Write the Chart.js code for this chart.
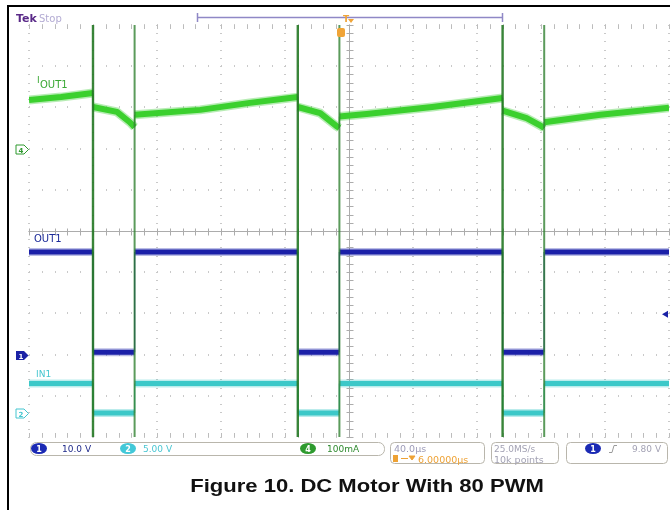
<!DOCTYPE html>
<html>
<head>
<meta charset="utf-8">
<script src="https://cdn.jsdelivr.net/npm/chart.js@4.4.1/dist/chart.umd.min.js"></script>
<style>
  html, body { margin: 0; padding: 0; background: #fff; }
  #wrap { width: 670px; height: 510px; }
</style>
</head>
<body>
<div id="wrap"><canvas id="scope" width="670" height="510"></canvas></div>
<script>
// time base: 40 us/div, 10 divisions, centre = 0
const timeTicks = [-200, -160, -120, -80, -40, 0, 40, 80, 120, 160, 200];

// PWM edges, us
const offEdges = [-160, -32, 96];   // OUT1 / IN1 go low
const onEdges = [-134, -6, 122];    // OUT1 / IN1 go high

// ch4: IOUT1 current, mA
const ioutTime = [-200, -180, -160, -160, -145, -137, -134, -134, -93, -62, -32, -32, -18, -8, -6, -6, 11, 52, 96, 96, 111, 120, 122, 122, 157, 200];
const ioutMa = [118, 125, 135, 101, 89, 64, 52, 82, 94, 111, 125, 101, 86, 55, 50, 78, 84, 101, 123, 92, 74, 55, 50, 64, 82, 99];

// ch1: OUT1 voltage, V [high, low]
const out1Levels = [24.9, 0.6];
// ch2: IN1 voltage, V [high, low]
const in1Levels = [3.6, 0.0];

// channel settings: units per division, ground marker in divisions
const ch1 = { scale: 10, ground: -3.0 };
const ch2 = { scale: 5, ground: -4.42 };
const ch4 = { scale: 100, ground: 2.0 };
const trigLevel = 9.8; // V on ch1

const GREEN = '#3bd02e';
const BLUE = '#1b20a8';
const CYAN = '#3cc8c8';

function toDiv(v, ch) {
  return ch.ground + v / ch.scale;
}

function stepSeries(levels, ch) {
  const hi = levels[0], lo = levels[1];
  const pts = [{ x: timeTicks[0], y: hi }];
  offEdges.forEach((t, i) => {
    pts.push({ x: t, y: hi }, { x: t, y: lo }, { x: onEdges[i], y: lo }, { x: onEdges[i], y: hi });
  });
  pts.push({ x: timeTicks[timeTicks.length - 1], y: hi });
  return pts.map(p => ({ x: p.x, y: toDiv(p.y, ch) }));
}

function spikes(edges) {
  const pts = [];
  edges.forEach(t => pts.push({ x: t, y: 5 }, { x: t, y: -5 }, { x: t, y: null }));
  return pts;
}

const ioutPts = ioutTime.map((t, i) => ({ x: t, y: toDiv(ioutMa[i], ch4) }));
const in1Pts = stepSeries(in1Levels, ch2);
const out1Pts = stepSeries(out1Levels, ch1);

const isVertical = ctx => ctx.p0.parsed.x === ctx.p1.parsed.x;

// trace = fuzzy halo + solid core, both from the same points
function trace(label, data, color, halo, wide, order) {
  return [
    {
      label: label + ' halo',
      data: data,
      borderColor: halo,
      borderWidth: wide + 3,
      borderCapStyle: 'butt',
      segment: { borderColor: ctx => isVertical(ctx) ? 'rgba(0,0,0,0)' : halo },
      order: order + 0.5
    },
    {
      label: label,
      data: data,
      borderColor: color,
      borderWidth: wide,
      borderCapStyle: 'butt',
      segment: { borderWidth: ctx => isVertical(ctx) ? 1.2 : wide },
      order: order
    }
  ];
}

// scope graticule: dotted divisions and centre cross with ticks
const graticule = {
  id: 'graticule',
  beforeDatasetsDraw(chart) {
    const { ctx, scales: { x, y } } = chart;
    ctx.save();
    ctx.fillStyle = '#c9c9c9';
    timeTicks.forEach(t => {
      const px = Math.round(x.getPixelForValue(t));
      for (let j = 0; j <= 50; j++) {
        const py = Math.round(y.getPixelForValue(-5 + j * 0.2));
        ctx.fillRect(px - 1, py, 2, 1);
      }
    });
    for (let i = 0; i <= 10; i++) {
      const py = Math.round(y.getPixelForValue(-5 + i));
      for (let j = 0; j <= 50; j++) {
        const px = Math.round(x.getPixelForValue(-200 + j * 8));
        ctx.fillRect(px, py - 1, 1, 2);
      }
    }
    // ticks along top and bottom edges
    ctx.fillStyle = '#bcbcbc';
    for (let j = 0; j <= 50; j++) {
      const px = Math.round(x.getPixelForValue(-200 + j * 8));
      ctx.fillRect(px, Math.round(y.getPixelForValue(5)), 1, 4);
      ctx.fillRect(px, Math.round(y.getPixelForValue(-5)) - 4, 1, 4);
    }
    // centre cross
    const cx = Math.round(x.getPixelForValue(0)) + 0.5;
    const cy = Math.round(y.getPixelForValue(0)) + 0.5;
    ctx.strokeStyle = '#acacac';
    ctx.lineWidth = 1;
    ctx.beginPath();
    ctx.moveTo(cx, y.getPixelForValue(5));
    ctx.lineTo(cx, y.getPixelForValue(-5));
    ctx.moveTo(x.getPixelForValue(-200), cy);
    ctx.lineTo(x.getPixelForValue(200), cy);
    for (let j = 0; j <= 50; j++) {
      const py = Math.round(y.getPixelForValue(-5 + j * 0.2)) + 0.5;
      ctx.moveTo(cx - 3, py);
      ctx.lineTo(cx + 4, py);
      const px = Math.round(x.getPixelForValue(-200 + j * 8)) + 0.5;
      ctx.moveTo(px, cy - 3);
      ctx.lineTo(px, cy + 4);
    }
    ctx.stroke();
    ctx.restore();
  }
};

function text(ctx, str, x, y, font, color, sx) {
  ctx.save();
  ctx.font = font;
  ctx.fillStyle = color;
  ctx.textBaseline = 'alphabetic';
  ctx.translate(x, y);
  ctx.scale(sx || 1, 1);
  ctx.fillText(str, 0, 0);
  ctx.restore();
}

function roundBox(ctx, x, y, w, h, r) {
  ctx.beginPath();
  ctx.roundRect(x + 0.5, y + 0.5, w, h, r);
  ctx.stroke();
}

function badge(ctx, cx, cy, fill, label) {
  ctx.fillStyle = fill;
  ctx.beginPath();
  ctx.ellipse(cx, cy, 8, 5.5, 0, 0, Math.PI * 2);
  ctx.fill();
  ctx.font = 'bold 8px "DejaVu Sans"';
  ctx.fillStyle = '#fff';
  ctx.textAlign = 'center';
  ctx.fillText(label, cx, cy + 3);
  ctx.textAlign = 'left';
}

function groundMarker(ctx, py, color, label, filled) {
  ctx.beginPath();
  ctx.moveTo(16, py - 4.5);
  ctx.lineTo(24, py - 4.5);
  ctx.lineTo(28.5, py);
  ctx.lineTo(24, py + 4.5);
  ctx.lineTo(16, py + 4.5);
  ctx.closePath();
  ctx.lineWidth = 1;
  if (filled) {
    ctx.fillStyle = color;
    ctx.fill();
  } else {
    ctx.fillStyle = '#fff';
    ctx.fill();
    ctx.strokeStyle = color;
    ctx.stroke();
  }
  ctx.font = 'bold 7px "DejaVu Sans"';
  ctx.fillStyle = filled ? '#fff' : color;
  ctx.textAlign = 'center';
  ctx.fillText(label, 21, py + 3);
  ctx.textAlign = 'left';
}

// labels, markers, status bar, figure caption
const annotations = {
  id: 'annotations',
  afterDraw(chart) {
    const { ctx, scales: { x, y } } = chart;
    ctx.save();

    // figure frame
    ctx.strokeStyle = '#000';
    ctx.lineWidth = 2;
    ctx.beginPath();
    ctx.moveTo(670, 6);
    ctx.lineTo(8, 6);
    ctx.lineTo(8, 510);
    ctx.stroke();

    text(ctx, 'Tek', 16, 22, 'bold 11px "DejaVu Sans"', '#5a2a88');
    text(ctx, 'Stop', 39, 22, '10px "DejaVu Sans"', '#b3abd3');

    // record window bar
    ctx.strokeStyle = '#8f88c6';
    ctx.lineWidth = 1.5;
    ctx.beginPath();
    ctx.moveTo(197, 17.5);
    ctx.lineTo(502, 17.5);
    ctx.moveTo(197.5, 13);
    ctx.lineTo(197.5, 22);
    ctx.moveTo(502.5, 13);
    ctx.lineTo(502.5, 22);
    ctx.stroke();

    // trigger position markers
    text(ctx, 'T', 343, 22, 'bold 9px "DejaVu Sans"', '#f0a437');
    ctx.fillStyle = '#f0a437';
    ctx.beginPath();
    ctx.moveTo(348, 19);
    ctx.lineTo(354, 19);
    ctx.lineTo(351, 23);
    ctx.closePath();
    ctx.fill();
    ctx.beginPath();
    ctx.roundRect(337, 28, 8, 9, 2);
    ctx.fill();

    // trace labels
    text(ctx, 'I', 37, 83, '9px "DejaVu Sans"', '#3aa834');
    text(ctx, 'OUT1', 40, 88, '10px "DejaVu Sans"', '#3aa834');
    text(ctx, 'OUT1', 34, 242, '10px "DejaVu Sans"', '#1c2a98');
    text(ctx, 'IN1', 36, 377, '9px "DejaVu Sans"', '#45c6d0');

    // ground markers
    groundMarker(ctx, Math.round(y.getPixelForValue(ch4.ground)) + 0.5, '#2f9a2f', '4', false);
    groundMarker(ctx, Math.round(y.getPixelForValue(ch1.ground)) + 0.5, '#1b22a6', '1', true);
    groundMarker(ctx, Math.round(y.getPixelForValue(ch2.ground)) + 0.5, '#45c6d0', '2', false);

    // trigger level arrow
    const ty = y.getPixelForValue(toDiv(trigLevel, ch1));
    ctx.fillStyle = '#1b22a6';
    ctx.beginPath();
    ctx.moveTo(662, ty);
    ctx.lineTo(668, ty - 3.5);
    ctx.lineTo(668, ty + 3.5);
    ctx.closePath();
    ctx.fill();

    // status bar
    ctx.strokeStyle = '#b9b6ac';
    ctx.lineWidth = 1;
    roundBox(ctx, 30, 442, 354, 13, 6);
    roundBox(ctx, 390, 442, 94, 21, 4);
    roundBox(ctx, 491, 442, 67, 21, 4);
    roundBox(ctx, 566, 442, 101, 21, 4);

    badge(ctx, 39, 448.5, '#1b2ab4', '1');
    text(ctx, '10.0 V', 62, 452, '9px "DejaVu Sans"', '#1f2a8a');
    badge(ctx, 128, 448.5, '#42c8d8', '2');
    text(ctx, '5.00 V', 143, 452, '9px "DejaVu Sans"', '#49c6d2');
    badge(ctx, 308, 448.5, '#2e9a2e', '4');
    text(ctx, '100mA', 327, 452, '9px "DejaVu Sans"', '#2e8a2e');

    text(ctx, '40.0\u00b5s', 394, 452, '9.5px "DejaVu Sans"', '#9d9bb8');
    ctx.fillStyle = '#eea235';
    ctx.fillRect(393, 455, 5, 7);
    ctx.beginPath();
    ctx.moveTo(401, 458.5);
    ctx.lineTo(408, 458.5);
    ctx.moveTo(409, 456);
    ctx.lineTo(415, 456);
    ctx.lineTo(412, 460);
    ctx.closePath();
    ctx.strokeStyle = '#eea235';
    ctx.stroke();
    ctx.fill();
    text(ctx, '6.00000\u00b5s', 418, 463, '9.5px "DejaVu Sans"', '#eea235');

    text(ctx, '25.0MS/s', 494, 452, '9px "DejaVu Sans"', '#a3a2b4');
    text(ctx, '10k points', 494, 463, '9.5px "DejaVu Sans"', '#a3a2b4');

    badge(ctx, 593, 448.5, '#1b2ab4', '1');
    ctx.strokeStyle = '#9a9a9a';
    ctx.lineWidth = 1;
    ctx.beginPath();
    ctx.moveTo(609, 452.5);
    ctx.lineTo(612, 452.5);
    ctx.lineTo(614, 445.5);
    ctx.lineTo(617, 445.5);
    ctx.stroke();
    text(ctx, '9.80 V', 632, 452, '9px "DejaVu Sans"', '#a3a2b4');

    // caption
    ctx.save();
    ctx.font = 'bold 19px "Liberation Sans", Arial, sans-serif';
    ctx.fillStyle = '#111';
    ctx.textAlign = 'center';
    ctx.translate(367, 492);
    ctx.scale(1.16, 1);
    ctx.fillText('Figure 10. DC Motor With 80 PWM', 0, 0);
    ctx.restore();

    ctx.restore();
  }
};

new Chart(document.getElementById('scope').getContext('2d'), {
  type: 'line',
  data: {
    datasets: [].concat(
      trace('IN1', in1Pts, CYAN, 'rgba(60,200,200,0.35)', 5, 6),
      trace('OUT1', out1Pts, BLUE, 'rgba(27,32,168,0.3)', 5, 4),
      trace('IOUT1', ioutPts, GREEN, 'rgba(50,200,40,0.35)', 6, 2),
      [
        {
          label: 'IOUT1 edges (off)',
          data: spikes(offEdges),
          borderColor: 'rgba(36,120,36,0.9)',
          borderWidth: 2.4,
          spanGaps: false,
          order: 1
        },
        {
          label: 'IOUT1 edges (on)',
          data: spikes(onEdges),
          borderColor: 'rgba(50,130,50,0.8)',
          borderWidth: 2,
          spanGaps: false,
          order: 1
        }
      ]
    )
  },
  options: {
    responsive: false,
    animation: false,
    layout: { padding: { left: 29, top: 25, right: 1, bottom: 73 } },
    elements: { point: { radius: 0 }, line: { tension: 0, borderJoinStyle: 'round' } },
    scales: {
      x: { type: 'linear', min: -200, max: 200, display: false },
      y: { type: 'linear', min: -5, max: 5, display: false }
    },
    plugins: {
      legend: { display: false },
      tooltip: { enabled: false }
    }
  },
  plugins: [graticule, annotations]
});
</script>
</body>
</html>
